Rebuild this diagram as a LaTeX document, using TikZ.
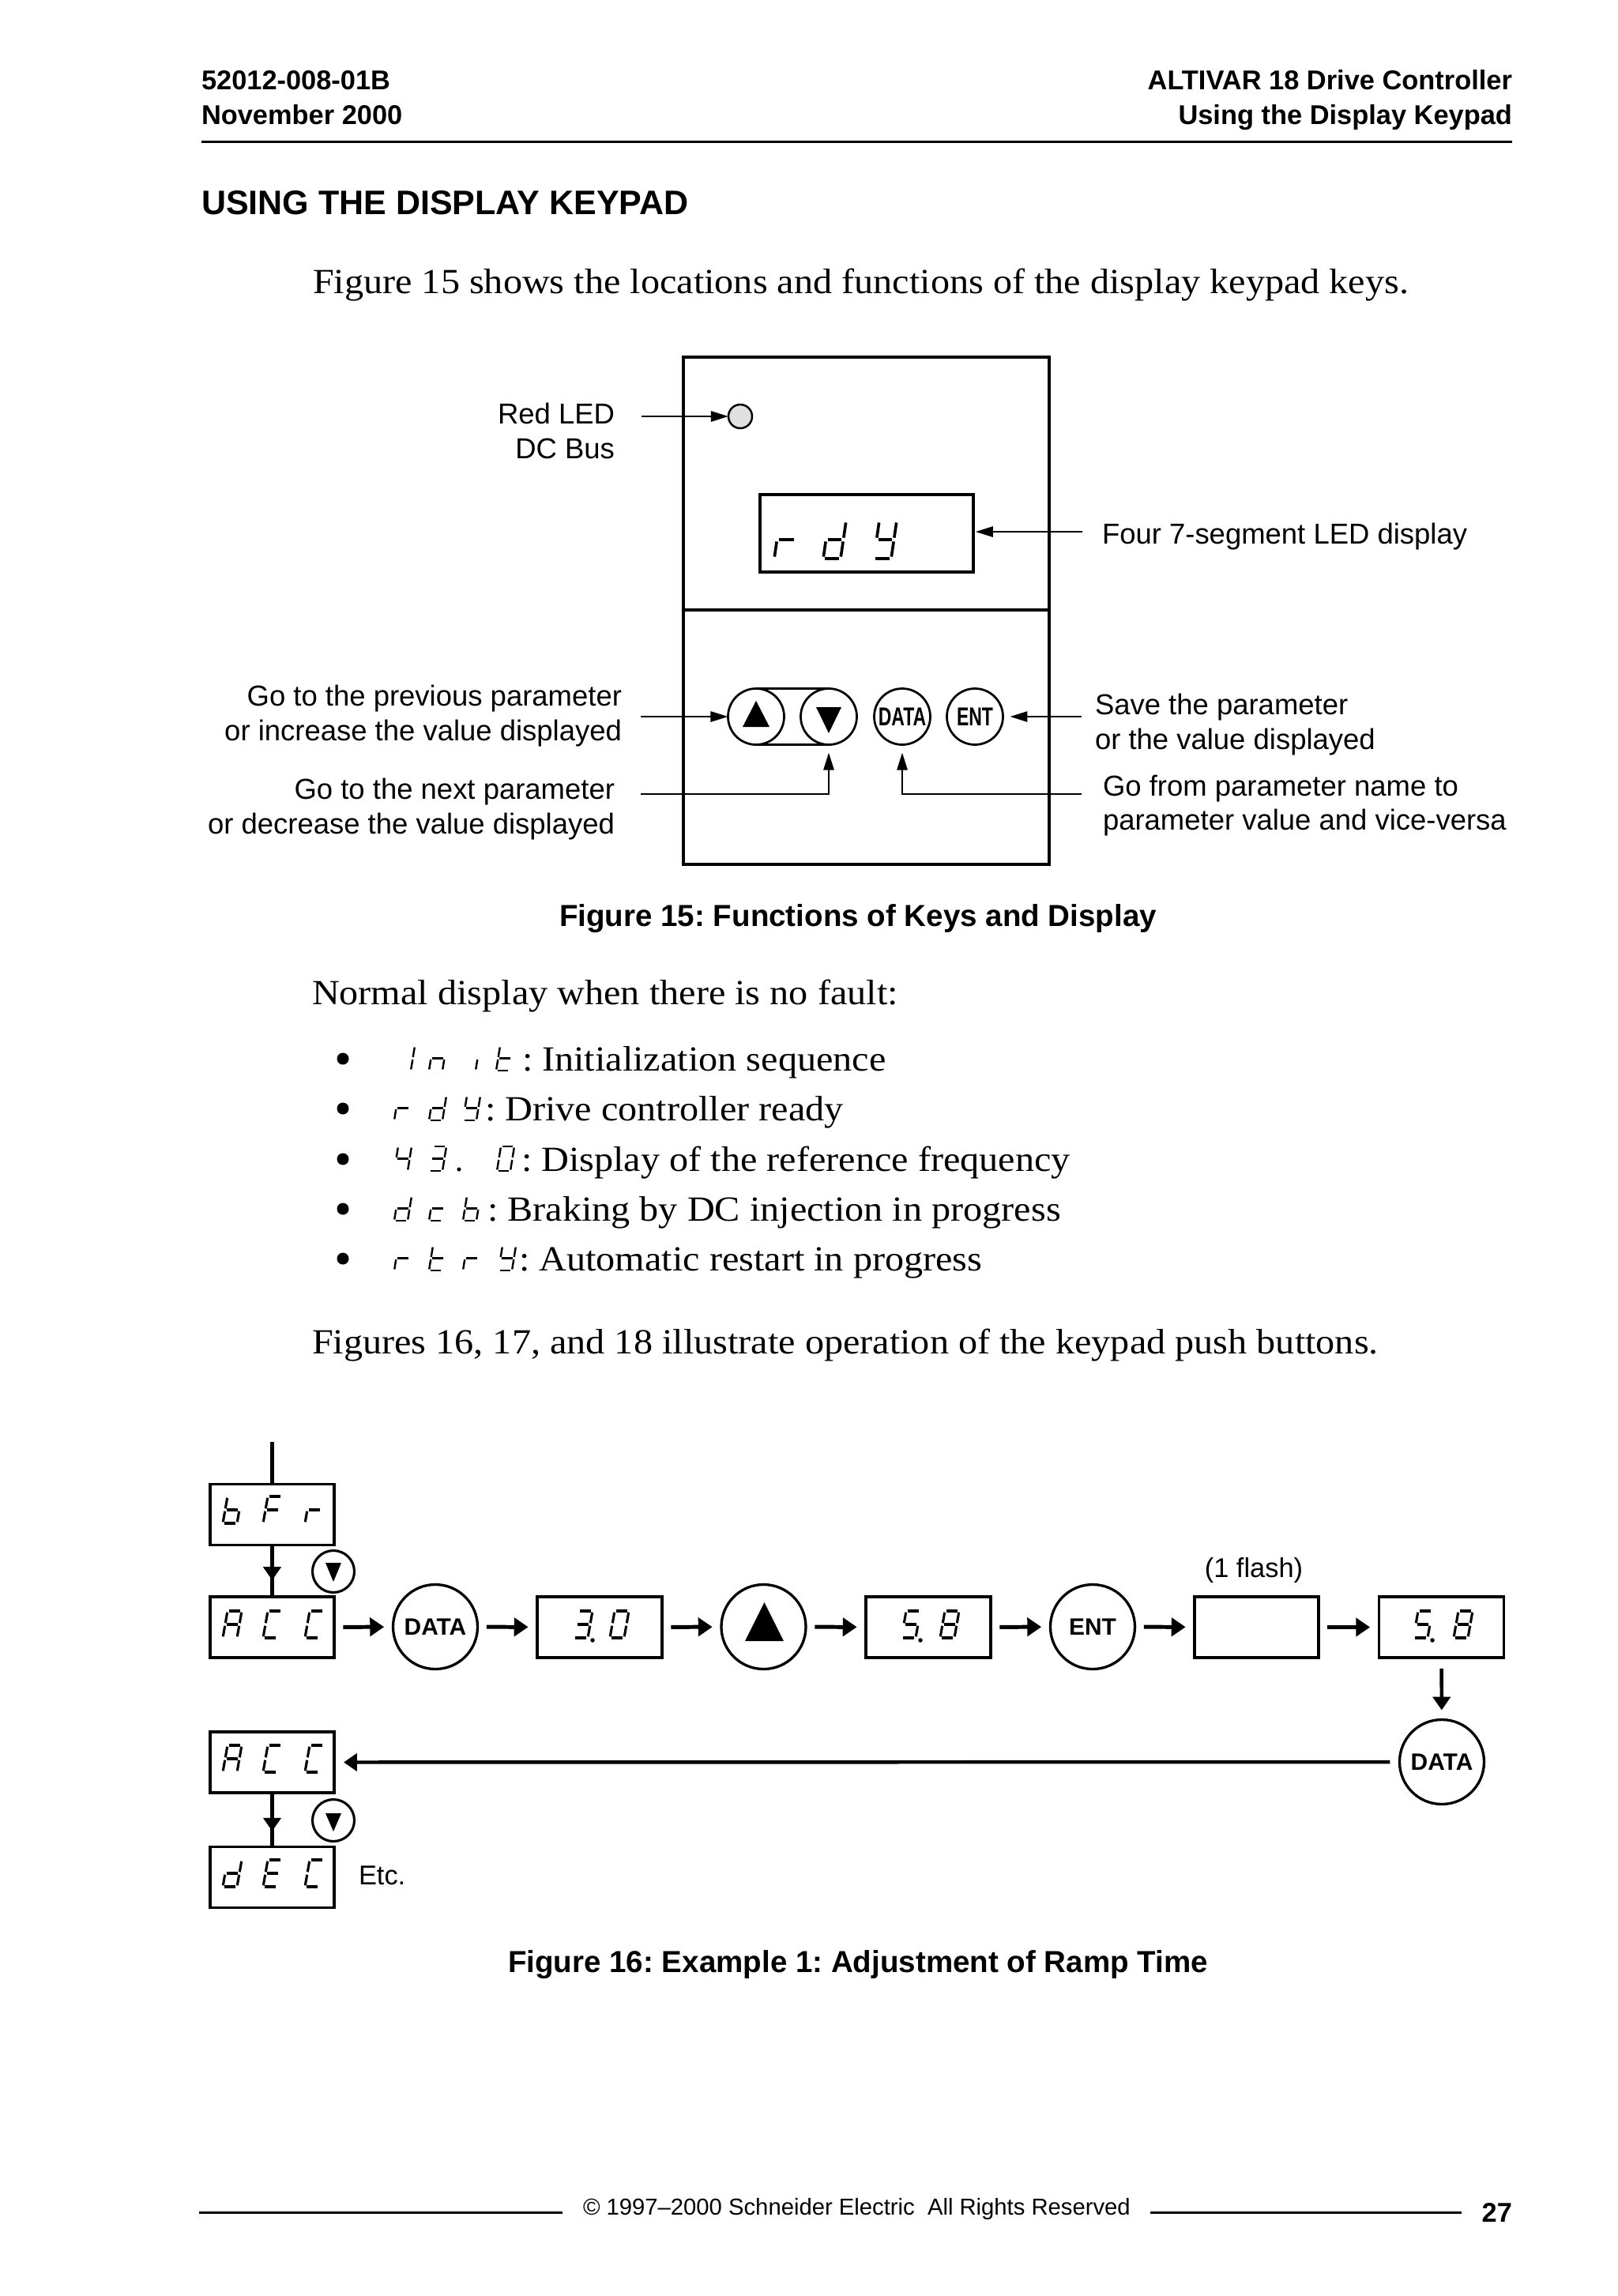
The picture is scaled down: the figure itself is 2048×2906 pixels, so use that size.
\documentclass[tikz,border=0pt]{standalone}
\usepackage{fontspec}
\usepackage{graphicx}
\usetikzlibrary{arrows.meta,decorations.markings}
\setmainfont{Liberation Sans}
\newfontfamily\sansf{Liberation Sans}
\newfontfamily\seriff{Liberation Serif}[FakeStretch=1.078]
\frenchspacing

% seven-segment drawing helpers
\newcommand{\segln}[4]{\draw[line width=\SLW, line cap=butt] ({\SX+(#1)*\SW+\SS*(1-(#2))},{\SY-\SH+(#2)*\SH}) -- ({\SX+(#3)*\SW+\SS*(1-(#4))},{\SY-\SH+(#4)*\SH});}
\expandafter\def\csname segXa\endcsname{\segln{0.1}{0}{0.9}{0}}
\expandafter\def\csname segXb\endcsname{\segln{1}{0.05}{1}{0.45}}
\expandafter\def\csname segXc\endcsname{\segln{1}{0.55}{1}{0.95}}
\expandafter\def\csname segXd\endcsname{\segln{0.1}{1}{0.9}{1}}
\expandafter\def\csname segXe\endcsname{\segln{0}{0.55}{0}{0.95}}
\expandafter\def\csname segXf\endcsname{\segln{0}{0.05}{0}{0.45}}
\expandafter\def\csname segXg\endcsname{\segln{0.1}{0.5}{0.9}{0.5}}
\newcommand{\sevseg}[7]{\def\SX{#1}\def\SY{#2}\def\SW{#3}\def\SH{#4}\def\SS{#5}\def\SLW{#6}\foreach \segid in {#7}{\csname segX\segid\endcsname}}
% big digits (fig 16): cell x, baseline y, segments
\newcommand{\bigd}[3]{\sevseg{#1}{#2}{18}{34}{6}{0.9pt}{#3}}
% small digits (bullet list)
\newcommand{\smd}[3]{\sevseg{#1}{#2}{17}{31}{5}{0.7pt}{#3}}

\begin{document}
\begin{tikzpicture}[x=0.29067pt,y=-0.29067pt,
  every node/.style={inner sep=0pt, outer sep=0pt},
  hdr/.style={font=\sansf\bfseries\fontsize{10}{12}\selectfont},
  ttl/.style={font=\sansf\bfseries\fontsize{12.5}{15}\selectfont},
  bodyt/.style={font=\seriff\fontsize{13}{16}\selectfont},
  lbl/.style={font=\sansf\fontsize{10.6}{12.7}\selectfont},
  lblb/.style={font=\sansf\fontsize{10}{12}\selectfont},
  capt/.style={font=\sansf\bfseries\fontsize{11.2}{13.4}\selectfont},
  foot/.style={font=\sansf\fontsize{8.5}{10}\selectfont},
  panelbox/.style={draw, line width=0.9pt, minimum width=134.58pt},
  key15/.style={draw, circle, line width=0.8pt, minimum size=20.64pt, font=\sansf\bfseries\fontsize{8.8}{9}\selectfont},
  box16/.style={draw, line width=0.96pt, minimum width=45.64pt, minimum height=22.38pt},
  btn16/.style={draw, circle, line width=0.96pt, minimum size=31.1pt, font=\sansf\bfseries\fontsize{8.7}{9}\selectfont},
  sbtn/.style={draw, circle, line width=0.9pt, minimum size=15.4pt},
  thinarr/.style={line width=0.73pt, -{Triangle[length=6.4pt,width=3.8pt]}},
  rowarr/.style={line width=1.45pt, -{Triangle[length=5.2pt,width=6.7pt]}, shorten <=3.3pt, shorten >=3.3pt},
  medarr/.style={line width=1.3pt, -{Triangle[length=4.9pt,width=6.4pt]}},
  midarr/.style={line width=1.3pt, postaction={decorate}, decoration={markings, mark=at position #1 with {\arrow{Triangle[length=4.9pt,width=6.4pt]}}}},
  bullet/.style={circle, fill=black, minimum size=4.36pt}
]
\fill[white] (0,0) rectangle (2048,2906);
\useasboundingbox (0,0) rectangle (2048,2906);

% ---------------- header ----------------
\node[hdr, anchor=base west] (docno) at (255,113) {52012-008-01B};
\node[hdr, anchor=base west] (date) at (255,157) {November 2000};
\node[hdr, anchor=base east] (prod) at (1914,113) {ALTIVAR 18 Drive Controller};
\node[hdr, anchor=base east] (sect) at (1914,157) {Using the Display Keypad};
\draw[line width=0.87pt] (255,179) -- (1914,179);
\node[ttl, anchor=base west] (title) at (255,271) {USING THE DISPLAY KEYPAD};
\node[bodyt, anchor=base west] (p1) at (396,371) {Figure 15 shows the locations and functions of the display keypad keys.};

% ---------------- Figure 15 ----------------
\node[panelbox, minimum height=93.01pt] (upper) at (1096.5,612) {};
\node[panelbox, minimum height=93.6pt] (lower) at (1096.5,933) {};
\node[circle, draw, fill=black!12, line width=0.73pt, minimum size=8.72pt] (led) at (937,527) {};
\node[draw, line width=0.96pt, minimum width=78.48pt, minimum height=28.49pt] (disp) at (1097,675) {};
\sevseg{980}{707}{24}{48}{7}{1.05pt}{e,g}
\sevseg{1042}{707}{22}{48}{7}{1.05pt}{b,c,d,e,g}
\sevseg{1106}{707}{22}{48}{7}{1.05pt}{b,c,d,f,g}

\node[key15] (up15) at (957,907) {};
\node[key15] (dn15) at (1049,907) {};
\node[key15] (data15) at (1142,907) {\scalebox{0.76}[1.08]{DATA}};
\node[key15] (ent15) at (1234,907) {\scalebox{0.76}[1.08]{ENT}};
\draw[line width=0.8pt] (up15.north) -- (dn15.north) (up15.south) -- (dn15.south);
\fill (940,920) -- (974,920) -- (957,887) -- cycle;
\fill (1033,895) -- (1065,895) -- (1049,928) -- cycle;

\node[lbl, anchor=base east] (redled) at (778,536) {Red LED};
\node[lbl, anchor=base east] (dcbus) at (778,580) {DC Bus};
\node[lbl, anchor=base west] (four) at (1395,688) {Four 7-segment LED display};
\node[lbl, anchor=base east] (prev1) at (787,893) {Go to the previous parameter};
\node[lbl, anchor=base east] (prev2) at (787,937) {or increase the value displayed};
\node[lbl, anchor=base east] (next1) at (778,1011) {Go to the next parameter};
\node[lbl, anchor=base east] (next2) at (778,1055) {or decrease the value displayed};
\node[lbl, anchor=base west] (save1) at (1386,904) {Save the parameter};
\node[lbl, anchor=base west] (save2) at (1386,948) {or the value displayed};
\node[lbl, anchor=base west] (gof1) at (1396,1007) {Go from parameter name to};
\node[lbl, anchor=base west] (gof2) at (1396,1050) {parameter value and vice-versa};

\coordinate (ledsrc) at (812,527);
\coordinate (dispsrc) at (1370,673);
\coordinate (upsrc) at (811,907);
\coordinate (entsrc) at (1369,907);
\coordinate (nextsrc) at (811,1005);
\coordinate (datasrc) at (1369,1005);
\draw[thinarr] (ledsrc) -- (led);
\draw[thinarr, shorten >=0.8pt] (dispsrc) -- (dispsrc -| disp.east);
\draw[thinarr] (upsrc) -- (up15);
\draw[thinarr, shorten >=2.6pt] (entsrc) -- (ent15);
\draw[thinarr, shorten >=2.9pt] (nextsrc) -| (dn15.south);
\draw[thinarr, shorten >=2.9pt] (datasrc) -| (data15.south);

\node[capt, anchor=base] (cap15) at (1086,1172) {Figure 15: Functions of Keys and Display};

% ---------------- body text ----------------
\node[bodyt, anchor=base west] (p2) at (395,1271) {Normal display when there is no fault:};
\node[bullet] (b1) at (434,1340) {};
\node[bullet] (b2) at (434,1403) {};
\node[bullet] (b3) at (434,1467) {};
\node[bullet] (b4) at (434,1530) {};
\node[bullet] (b5) at (434,1593) {};
% Init
\smd{503}{1355}{b,c}\smd{543}{1355}{c,e,g}\smd{585}{1355}{c}\smd{628}{1355}{d,e,f,g}
\node[bodyt, anchor=base west] (t1) at (661,1355) {: Initialization sequence};
% rdY
\smd{499}{1418}{e,g}\smd{543}{1418}{b,c,d,e,g}\smd{586}{1418}{b,c,d,f,g}
\node[bodyt, anchor=base west] (t2) at (614,1418) {: Drive controller ready};
% 43.0
\smd{499}{1482}{b,c,f,g}\smd{543}{1482}{a,b,c,d,g}\smd{629}{1482}{a,b,c,d,e,f}
\fill (581,1480) circle[radius=0.75pt];
\node[bodyt, anchor=base west] (t3) at (660,1482) {: Display of the reference frequency};
% dcb
\smd{499}{1545}{b,c,d,e,g}\smd{543}{1545}{d,e,g}\smd{586}{1545}{c,d,e,f,g}
\node[bodyt, anchor=base west] (t4) at (617,1545) {: Braking by DC injection in progress};
% rtrY
\smd{499}{1608}{e,g}\smd{543}{1608}{d,e,f,g}\smd{586}{1608}{e,g}\smd{631}{1608}{b,c,d,f,g}
\node[bodyt, anchor=base west] (t5) at (657,1608) {: Automatic restart in progress};

\node[bodyt, anchor=base west] (p3) at (395,1713) {Figures 16, 17, and 18 illustrate operation of the keypad push buttons.};

% ---------------- Figure 16 ----------------
\node[box16] (bfr) at (344.5,1917) {};
\node[box16] (acc1) at (344.5,2059.5) {};
\node[btn16] (data1) at (551,2059) {DATA};
\node[box16, minimum width=45.93pt] (v30) at (759,2059.5) {};
\node[btn16] (up16) at (966.5,2059) {};
\node[box16, minimum width=45.93pt] (v58a) at (1175,2059.5) {};
\node[btn16] (ent16) at (1383,2059) {ENT};
\node[box16] (blank) at (1590.5,2059.5) {};
\node[box16, minimum width=45.93pt] (v58b) at (1824.5,2059.5) {};
\node[btn16] (data2) at (1825,2230) {DATA};
\node[box16] (acc2) at (344.5,2230.5) {};
\node[box16] (dec) at (344.5,2376) {};
\node[sbtn] (dn1) at (422,1989) {};
\node[sbtn] (dn2) at (422,2304) {};
\fill (412,1978) -- (432,1978) -- (422,2002) -- cycle;
\fill (412,2295) -- (432,2295) -- (422,2318) -- cycle;
\fill (943,2077) -- (992,2077) -- (967.5,2028) -- cycle;

\node[lblb, anchor=base] (flash) at (1587,1996) {(1 flash)};
\node[lblb, anchor=base west] (etc) at (454,2385) {Etc.};

% digits
\bigd{282}{1928}{c,d,e,f,g}\bigd{333}{1928}{a,e,f,g}\bigd{386}{1928}{e,g}
\bigd{282}{2073}{a,b,c,e,f,g}\bigd{333}{2073}{a,d,e,f}\bigd{386}{2073}{a,d,e,f}
\bigd{726}{2073}{a,b,c,d,g}\bigd{772}{2073}{a,b,c,d,e,f}
\fill (750,2076) circle[radius=0.8pt];
\bigd{1141}{2073}{a,c,d,f,g}\bigd{1190}{2073}{a,b,c,d,e,f,g}
\fill (1165,2076) circle[radius=0.8pt];
\bigd{1789}{2073}{a,c,d,f,g}\bigd{1840}{2073}{a,b,c,d,e,f,g}
\fill (1813,2076) circle[radius=0.8pt];
\bigd{282}{2243}{a,b,c,e,f,g}\bigd{333}{2243}{a,d,e,f}\bigd{386}{2243}{a,d,e,f}
\bigd{282}{2388}{b,c,d,e,g}\bigd{333}{2388}{a,d,e,f,g}\bigd{386}{2388}{a,d,e,f}

% connectors
\coordinate (topin) at (344.5,1825);
\draw[line width=1.3pt] (topin) -- (bfr);
\draw[midarr=0.68] (bfr) -- (acc1);
\draw[rowarr] (acc1) -- (data1);
\draw[rowarr] (data1) -- (v30);
\draw[rowarr] (v30) -- (up16);
\draw[rowarr] (up16) -- (v58a);
\draw[rowarr] (v58a) -- (ent16);
\draw[rowarr] (ent16) -- (blank);
\draw[rowarr] (blank) -- (v58b);
\draw[medarr, shorten <=4pt, shorten >=3.5pt] (v58b) -- (data2);
\draw[medarr, shorten <=3.5pt, shorten >=3.5pt] (data2) -- (acc2);
\draw[midarr=0.71] (acc2) -- (dec);

\node[capt, anchor=base] (cap16) at (1086,2496) {Figure 16: Example 1: Adjustment of Ramp Time};

% ---------------- footer ----------------
\draw[line width=0.87pt] (252,2800) -- (712,2800);
\draw[line width=0.87pt] (1456,2800) -- (1850,2800);
\node[foot, anchor=base west] (copy) at (738,2803) {© 1997–2000 Schneider Electric\ \ All Rights Reserved};
\node[hdr, anchor=base east] (pageno) at (1914,2812) {27};
\end{tikzpicture}
\end{document}
